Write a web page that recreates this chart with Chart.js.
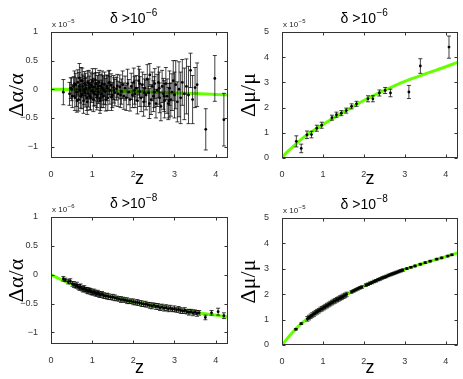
<!DOCTYPE html>
<html>
<head>
<meta charset="utf-8">
<script src="https://cdn.jsdelivr.net/npm/chart.js@4.4.1/dist/chart.umd.min.js"></script>
<style>
  body { margin: 0; background: #fff; }
  canvas { position: absolute; }
</style>
</head>
<body>
<canvas id="c1" width="232" height="190" style="left:0px;top:0px"></canvas>
<canvas id="c2" width="231" height="190" style="left:232px;top:0px"></canvas>
<canvas id="c3" width="232" height="189" style="left:0px;top:190px"></canvas>
<canvas id="c4" width="231" height="189" style="left:232px;top:190px"></canvas>
<script>
// top left: delta alpha / alpha, delta > 1e-6 (units of 1e-5)
const zA = [0.30,0.45,0.48,0.52,0.55,0.58,0.60,0.62,0.65,0.67,
  0.69,0.71,0.73,0.75,0.77,0.79,0.81,0.83,0.85,0.87,
  0.89,0.91,0.93,0.95,0.97,0.99,1.01,1.03,1.05,1.07,
  1.09,1.11,1.13,1.15,1.17,1.19,1.21,1.23,1.25,1.27,
  1.30,1.32,1.35,1.38,1.40,1.43,1.46,1.49,1.52,1.55,
  1.59,1.63,1.67,1.71,1.74,1.77,1.80,1.83,1.86,1.89,
  1.92,1.95,1.98,2.01,2.04,2.07,2.10,2.13,2.16,2.19,
  2.22,2.25,2.28,2.31,2.34,2.37,2.40,2.43,2.46,2.49,
  2.52,2.55,2.58,2.61,2.64,2.67,2.70,2.73,2.76,2.79,
  2.82,2.85,2.88,2.91,2.94,2.97,3.00,3.03,3.07,3.11,
  3.15,3.19,3.24,3.29,3.34,3.39,3.44,3.50,3.55,3.76,
  3.98,4.20,
  0.50,0.57,0.63,0.68,0.72,0.76,0.80,0.84,0.88,0.92,
  0.96,1.00,1.04,1.08,1.12,1.16,1.20,1.24,1.28,1.33,
  1.37,1.42,1.47,1.53,1.61,1.69,2.03,2.15,2.27,2.39,
  2.51,2.63,2.75,2.87];
const yA = [-0.05,-0.08,0.02,-0.12,0.05,-0.15,0.08,-0.05,0.12,-0.18,
  0.20,-0.02,0.15,-0.10,0.05,-0.20,0.10,-0.06,0.02,-0.15,
  0.12,-0.08,0.03,-0.12,0.08,-0.03,0.14,-0.18,0.04,-0.09,
  0.10,-0.14,0.01,-0.05,0.12,-0.20,0.06,-0.08,0.02,-0.12,
  0.09,-0.04,0.05,-0.15,0.11,-0.02,0.07,-0.10,0.03,-0.06,
  0.01,-0.08,0.04,-0.04,0.08,-0.12,0.02,-0.15,0.10,-0.05,
  -0.18,0.05,-0.10,0.12,-0.08,0.02,-0.20,0.15,-0.04,-0.15,
  0.08,-0.22,0.02,-0.10,0.18,-0.06,0.25,-0.18,0.05,-0.12,
  0.10,-0.25,-0.02,0.12,-0.15,-0.30,0.05,-0.08,-0.20,0.10,
  -0.12,-0.25,0.02,-0.18,-0.05,0.15,-0.10,0.08,-0.22,0.00,
  -0.15,0.12,-0.08,0.05,-0.10,0.33,-0.18,0.03,0.08,-0.70,
  0.19,-0.53,
  0.00,0.10,-0.20,0.05,-0.12,0.15,-0.02,0.08,-0.22,0.10,
  -0.15,0.05,-0.05,0.16,-0.10,0.06,-0.16,0.10,-0.02,-0.18,
  0.02,0.12,-0.14,-0.02,0.06,-0.10,-0.02,0.10,-0.06,-0.25,
  -0.05,0.02,-0.12,-0.20];
const eA = [0.22,0.20,0.18,0.20,0.17,0.22,0.20,0.25,0.22,0.20,
  0.25,0.22,0.23,0.24,0.20,0.22,0.21,0.25,0.19,0.22,
  0.20,0.23,0.20,0.24,0.22,0.20,0.22,0.21,0.24,0.20,
  0.19,0.22,0.23,0.20,0.21,0.22,0.20,0.24,0.22,0.20,
  0.21,0.23,0.20,0.22,0.21,0.24,0.20,0.22,0.21,0.23,
  0.20,0.22,0.21,0.22,0.24,0.23,0.21,0.22,0.25,0.22,
  0.20,0.23,0.22,0.25,0.24,0.22,0.23,0.25,0.26,0.24,
  0.22,0.25,0.24,0.26,0.25,0.24,0.20,0.26,0.25,0.27,
  0.26,0.25,0.28,0.27,0.26,0.25,0.28,0.27,0.30,0.28,
  0.30,0.28,0.30,0.29,0.32,0.35,0.40,0.42,0.35,0.48,
  0.45,0.40,0.45,0.48,0.50,0.30,0.42,0.35,0.38,0.36,
  0.40,0.46,
  0.20,0.22,0.20,0.24,0.21,0.22,0.25,0.20,0.22,0.23,
  0.21,0.22,0.24,0.20,0.22,0.23,0.21,0.22,0.24,0.20,
  0.22,0.21,0.23,0.22,0.20,0.22,0.24,0.25,0.24,0.26,
  0.27,0.28,0.27,0.30];
const fitZA = [0, 0.5, 1, 1.5, 2, 2.5, 3, 3.5, 4, 4.3];
const fitYA = [0, -0.005, -0.015, -0.025, -0.04, -0.05, -0.065, -0.075, -0.09, -0.1];

// top right: delta mu / mu, delta > 1e-6 (units of 1e-5)
const zB = [0.35,0.47,0.61,0.72,0.85,0.97,1.22,1.33,1.45,1.57,1.70,1.82,2.10,2.22,2.38,2.52,2.65,3.10,3.38,4.08];
const yB = [0.66,0.38,0.92,0.93,1.18,1.30,1.60,1.72,1.78,1.88,2.05,2.15,2.35,2.35,2.58,2.68,2.58,2.62,3.65,4.40];
const eB = [0.22,0.17,0.15,0.13,0.12,0.12,0.10,0.10,0.10,0.10,0.10,0.10,0.12,0.12,0.12,0.12,0.15,0.26,0.29,0.44];
const fitZB = [0, 0.1, 0.25, 0.5, 0.75, 1, 1.5, 2, 2.5, 3, 3.5, 4, 4.3];
const fitYB = [0, 0.2, 0.42, 0.78, 1.07, 1.33, 1.82, 2.28, 2.68, 3.04, 3.34, 3.62, 3.8];

// bottom left: delta alpha / alpha, delta > 1e-8 (units of 1e-6)
const zC = [0.30,0.35,0.42,0.47,0.52,0.56,0.60,0.63,0.66,0.69,
  0.72,0.75,0.78,0.81,0.84,0.87,0.90,0.93,0.96,0.99,
  1.02,1.05,1.08,1.11,1.14,1.17,1.20,1.24,1.28,1.32,
  1.36,1.40,1.45,1.50,1.55,1.60,1.65,1.70,1.75,1.80,
  1.85,1.90,1.95,2.00,2.05,2.10,2.15,2.20,2.25,2.30,
  2.35,2.40,2.45,2.50,2.55,2.60,2.65,2.70,2.75,2.80,
  2.85,2.90,2.95,3.00,3.05,3.10,3.15,3.20,3.25,3.30,
  3.35,3.40,3.45,3.50,3.55,3.60,3.75,3.90,4.06,4.20];
const yC = [-0.07,-0.09,-0.12,-0.11,-0.16,-0.17,-0.19,-0.18,-0.21,-0.22,
  -0.21,-0.24,-0.25,-0.24,-0.26,-0.27,-0.28,-0.27,-0.29,-0.30,
  -0.31,-0.30,-0.32,-0.33,-0.32,-0.34,-0.35,-0.34,-0.36,-0.37,
  -0.37,-0.38,-0.39,-0.39,-0.40,-0.41,-0.42,-0.43,-0.43,-0.44,
  -0.45,-0.46,-0.46,-0.47,-0.48,-0.48,-0.49,-0.50,-0.51,-0.51,
  -0.52,-0.53,-0.54,-0.53,-0.55,-0.55,-0.57,-0.56,-0.58,-0.57,
  -0.59,-0.58,-0.60,-0.59,-0.61,-0.60,-0.62,-0.63,-0.62,-0.64,
  -0.65,-0.64,-0.66,-0.65,-0.67,-0.66,-0.74,-0.66,-0.64,-0.71];
const eC = [0.04,0.03,0.04,0.04,0.04,0.05,0.04,0.05,0.04,0.05,
  0.05,0.04,0.05,0.05,0.04,0.05,0.05,0.04,0.05,0.05,
  0.04,0.05,0.05,0.04,0.05,0.05,0.04,0.05,0.05,0.04,
  0.05,0.05,0.04,0.05,0.05,0.04,0.04,0.05,0.04,0.04,
  0.05,0.04,0.04,0.05,0.04,0.05,0.04,0.05,0.04,0.05,
  0.04,0.05,0.05,0.04,0.05,0.05,0.05,0.05,0.05,0.05,
  0.05,0.05,0.04,0.05,0.04,0.05,0.05,0.04,0.05,0.04,
  0.05,0.04,0.05,0.04,0.05,0.04,0.04,0.04,0.06,0.05];
const fitZC = [0, 0.25, 0.5, 0.75, 1, 1.25, 1.5, 1.75, 2, 2.25, 2.5, 2.75, 3, 3.25, 3.5, 3.75, 4, 4.3];
const fitYC = [0, -0.085, -0.16, -0.23, -0.295, -0.345, -0.39, -0.43, -0.47, -0.505, -0.535, -0.565, -0.595, -0.625, -0.65, -0.675, -0.7, -0.735];

// bottom right: delta mu / mu, delta > 1e-8 (units of 1e-5)
const zD = [0.34,0.47,0.62,0.66,0.70,0.74,0.78,0.82,0.86,0.90,
  0.94,0.98,1.02,1.06,1.10,1.14,1.18,1.22,1.26,1.30,
  1.34,1.38,1.42,1.46,1.50,1.54,1.58,1.70,1.75,1.80,
  1.85,1.90,1.95,2.05,2.10,2.15,2.20,2.25,2.30,2.35,
  2.40,2.45,2.50,2.55,2.60,2.65,2.70,2.75,2.80,2.85,
  2.90,2.95,3.05,3.15,3.25,3.38,3.50,3.62,3.78,3.90,
  4.05,4.15];
const yD = [0.62,0.84,1.03,1.08,1.13,1.18,1.22,1.27,1.31,1.35,
  1.40,1.43,1.47,1.51,1.55,1.59,1.63,1.67,1.71,1.74,
  1.78,1.81,1.85,1.88,1.92,1.95,1.99,2.09,2.13,2.17,
  2.21,2.25,2.28,2.36,2.39,2.43,2.46,2.50,2.53,2.57,
  2.60,2.64,2.67,2.70,2.74,2.77,2.80,2.83,2.86,2.89,
  2.92,2.95,3.01,3.06,3.11,3.18,3.24,3.30,3.38,3.43,
  3.50,3.55];
const eD = [0.03,0.03,0.09,0.09,0.09,0.09,0.09,0.09,0.09,0.09,
  0.09,0.09,0.09,0.09,0.09,0.09,0.09,0.09,0.09,0.09,
  0.09,0.09,0.09,0.09,0.09,0.09,0.09,0.05,0.05,0.05,
  0.05,0.05,0.05,0.05,0.05,0.05,0.05,0.05,0.05,0.05,
  0.05,0.05,0.05,0.05,0.05,0.05,0.05,0.05,0.05,0.05,
  0.05,0.05,0.03,0.03,0.03,0.03,0.03,0.03,0.03,0.03,
  0.03,0.03];
const fitZD = [0, 0.25, 0.5, 0.75, 1, 1.25, 1.5, 1.75, 2, 2.25, 2.5, 2.75, 3, 3.25, 3.5, 3.75, 4, 4.3];
const fitYD = [0, 0.48, 0.88, 1.19, 1.45, 1.7, 1.92, 2.13, 2.32, 2.5, 2.67, 2.83, 2.98, 3.11, 3.24, 3.36, 3.48, 3.63];

const FONT = '"Liberation Sans", Arial, Helvetica, sans-serif';
const SERIF = '"Liberation Serif", "Times New Roman", serif';
const GREEN = '#66ff00';

function fmt(v) {
  return String(Number(v.toFixed(2))).replace('-', '\u2212');
}

// error bars, matlab style box with inward ticks, headings with superscripts
const matlabLook = {
  id: 'matlabLook',
  afterDatasetDraw(chart, args) {
    const ds = chart.data.datasets[args.index];
    if (!ds.errors) return;
    const ctx = chart.ctx, xs = chart.scales.x, ys = chart.scales.y;
    ctx.save();
    ctx.strokeStyle = 'rgba(0,0,0,0.75)';
    ctx.lineWidth = 1;
    ctx.beginPath();
    ds.data.forEach((p, i) => {
      const px = xs.getPixelForValue(p.x);
      const hi = ys.getPixelForValue(p.y + ds.errors[i]);
      const lo = ys.getPixelForValue(p.y - ds.errors[i]);
      ctx.moveTo(px, hi); ctx.lineTo(px, lo);
      ctx.moveTo(px - 2, hi); ctx.lineTo(px + 2, hi);
      ctx.moveTo(px - 2, lo); ctx.lineTo(px + 2, lo);
    });
    ctx.stroke();
    ctx.restore();
  },
  afterDraw(chart, args, opts) {
    const ctx = chart.ctx, a = chart.chartArea;
    const xs = chart.scales.x, ys = chart.scales.y;
    const L = Math.floor(a.left) + 0.5, T = Math.floor(a.top) + 0.5;
    const R = Math.floor(a.right) - 0.5, B = Math.floor(a.bottom) - 0.5;
    ctx.save();
    ctx.strokeStyle = '#333';
    ctx.lineWidth = 1;
    ctx.strokeRect(L, T, R - L, B - T);
    ctx.beginPath();
    xs.ticks.forEach(t => {
      const px = Math.round(xs.getPixelForValue(t.value)) + 0.5;
      ctx.moveTo(px, B); ctx.lineTo(px, B - 3);
      ctx.moveTo(px, T); ctx.lineTo(px, T + 3);
    });
    ys.ticks.forEach(t => {
      const py = Math.round(ys.getPixelForValue(t.value)) + 0.5;
      ctx.moveTo(L, py); ctx.lineTo(L + 3, py);
      ctx.moveTo(R, py); ctx.lineTo(R - 3, py);
    });
    ctx.stroke();

    // title  "δ >10^-n"
    ctx.fillStyle = '#000';
    ctx.textAlign = 'left';
    ctx.textBaseline = 'alphabetic';
    ctx.font = '14px ' + FONT;
    const w1 = ctx.measureText(opts.title[0]).width;
    ctx.font = '10px ' + FONT;
    const w2 = ctx.measureText(opts.title[1]).width;
    const x0 = (a.left + a.right) / 2 + opts.shift - (w1 + w2) / 2;
    ctx.font = '14px ' + FONT;
    ctx.fillText(opts.title[0], x0, a.top - 9);
    ctx.font = '10px ' + FONT;
    ctx.fillText(opts.title[1], x0 + w1 + 0.5, a.top - 16);

    // exponent note "x 10^-n"
    ctx.fillStyle = '#222';
    ctx.font = '8px ' + FONT;
    ctx.fillText(opts.note[0], a.left + 1, a.top - 5);
    const wn = ctx.measureText(opts.note[0]).width;
    ctx.font = '6px ' + FONT;
    ctx.fillText(opts.note[1], a.left + 1 + wn + 0.5, a.top - 9);
    ctx.restore();
  }
};

function panel(id, z, y, e, fitZ, fitY, yMin, yMax, yStep, yLabel, title, note, pad, xH, yW) {
  const pts = z.map((v, i) => ({ x: v, y: y[i] }));
  const fit = fitZ.map((v, i) => ({ x: v, y: fitY[i] }));
  return new Chart(document.getElementById(id).getContext('2d'), {
    type: 'scatter',
    data: {
      datasets: [{
        data: pts,
        errors: e,
        pointRadius: 1.4,
        pointBackgroundColor: '#000',
        pointBorderWidth: 0
      }, {
        type: 'line',
        data: fit,
        borderColor: GREEN,
        borderWidth: 3,
        pointRadius: 0,
        cubicInterpolationMode: 'monotone',
        fill: false
      }]
    },
    options: {
      responsive: false,
      animation: false,
      layout: { padding: pad },
      plugins: {
        legend: { display: false },
        tooltip: { enabled: false },
        matlabLook: { title: title, note: note, shift: -6 }
      },
      scales: {
        x: {
          type: 'linear', min: 0, max: 4.3,
          afterFit(s) { s.height = xH; },
          grid: { display: false },
          border: { display: false },
          ticks: { stepSize: 1, includeBounds: false, padding: 3, maxRotation: 0,
                   color: '#333', font: { family: FONT, size: 9 }, callback: fmt },
          title: { display: true, text: 'z', color: '#000',
                   font: { family: FONT, size: 18 }, padding: { top: 0, bottom: 0 } }
        },
        y: {
          type: 'linear', min: yMin, max: yMax,
          afterFit(s) { s.width = yW; },
          grid: { display: false },
          border: { display: false },
          ticks: { stepSize: yStep, includeBounds: false, padding: 5,
                   color: '#333', font: { family: FONT, size: 9 }, callback: fmt },
          title: { display: true, text: yLabel, color: '#000',
                   font: { family: SERIF, size: 22 }, padding: { top: 4, bottom: 0 } }
        }
      }
    },
    plugins: [matlabLook]
  });
}

panel('c1', zA, yA, eA, fitZA, fitYA, -1.2, 1, 0.5, '\u0394\u03b1/\u03b1',
  ['\u03b4 >10', '\u22126'], ['x 10', '\u22125'], { top: 32, right: 4, left: 0, bottom: 0 }, 32, 51);
panel('c2', zB, yB, eB, fitZB, fitYB, 0, 5, 1, '\u0394\u03bc/\u03bc',
  ['\u03b4 >10', '\u22126'], ['x 10', '\u22125'], { top: 32, right: 5, left: 0, bottom: 0 }, 32, 50);
panel('c3', zC, yC, eC, fitZC, fitYC, -1.2, 1, 0.5, '\u0394\u03b1/\u03b1',
  ['\u03b4 >10', '\u22128'], ['x 10', '\u22126'], { top: 27, right: 4, left: 0, bottom: 0 }, 35, 51);
panel('c4', zD, yD, eD, fitZD, fitYD, 0, 5, 1, '\u0394\u03bc/\u03bc',
  ['\u03b4 >10', '\u22128'], ['x 10', '\u22125'], { top: 28, right: 5, left: 0, bottom: 0 }, 34, 50);
</script>
</body>
</html>
